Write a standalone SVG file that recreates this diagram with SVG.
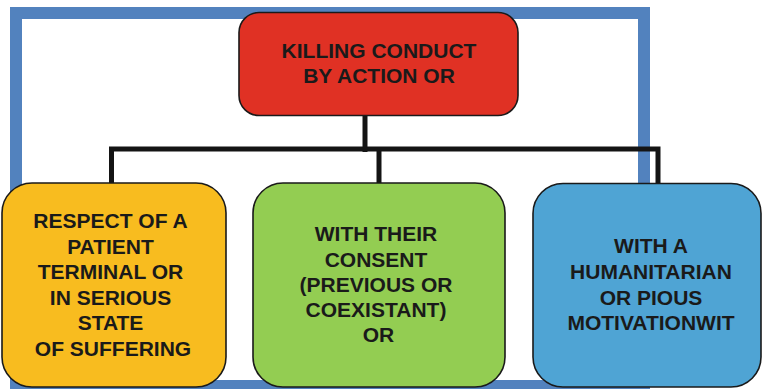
<svg xmlns="http://www.w3.org/2000/svg" width="763" height="389" viewBox="0 0 763 389">
<style>
.box{stroke:#1a1a1a;stroke-width:1.6}
.t{font-family:"Liberation Sans",Arial,Helvetica,sans-serif;font-weight:bold;font-size:21px;fill:#1a1a1a;text-anchor:middle}
.c{stroke:#141414;stroke-width:5;fill:none}
</style>
<rect width="763" height="389" fill="#ffffff"/>
<rect id="frame" x="16" y="13" width="628" height="373" fill="none" stroke="#5282BE" stroke-width="12"/>
<g id="connectors">
<path class="c" d="M365,116 V152"/>
<path class="c" d="M111.5,183 V149 H658 V183"/>
<path class="c" d="M379,149 V183"/>
</g>
<g id="root">
<rect class="box" x="239" y="12.5" width="279" height="103" rx="20" fill="#E03124"/>
<text class="t" x="379" y="58">KILLING CONDUCT</text>
<text class="t" x="379" y="83">BY ACTION OR</text>
</g>
<g id="n1">
<rect class="box" x="2" y="183" width="224" height="204" rx="30" fill="#F8BC1F"/>
<text class="t" x="110.5" y="228">RESPECT OF A</text>
<text class="t" x="110.5" y="253.5">PATIENT</text>
<text class="t" x="110.5" y="279">TERMINAL OR</text>
<text class="t" x="110.5" y="304.5">IN SERIOUS</text>
<text class="t" x="110.5" y="330">STATE</text>
<text class="t" x="113" y="355.5">OF SUFFERING</text>
</g>
<g id="n2">
<rect class="box" x="253" y="183" width="252" height="204" rx="30" fill="#93CD52"/>
<text class="t" x="376" y="241">WITH THEIR</text>
<text class="t" x="376" y="266.5">CONSENT</text>
<text class="t" x="376" y="292">(PREVIOUS OR</text>
<text class="t" x="376" y="317">COEXISTANT)</text>
<text class="t" x="378.5" y="342">OR</text>
</g>
<g id="n3">
<rect class="box" x="533" y="183.5" width="228" height="203.5" rx="30" fill="#4FA4D4"/>
<text class="t" x="651" y="253">WITH A</text>
<text class="t" x="651" y="279">HUMANITARIAN</text>
<text class="t" x="651" y="304.5">OR PIOUS</text>
<text class="t" x="651" y="330">MOTIVATIONWIT</text>
</g>
</svg>
